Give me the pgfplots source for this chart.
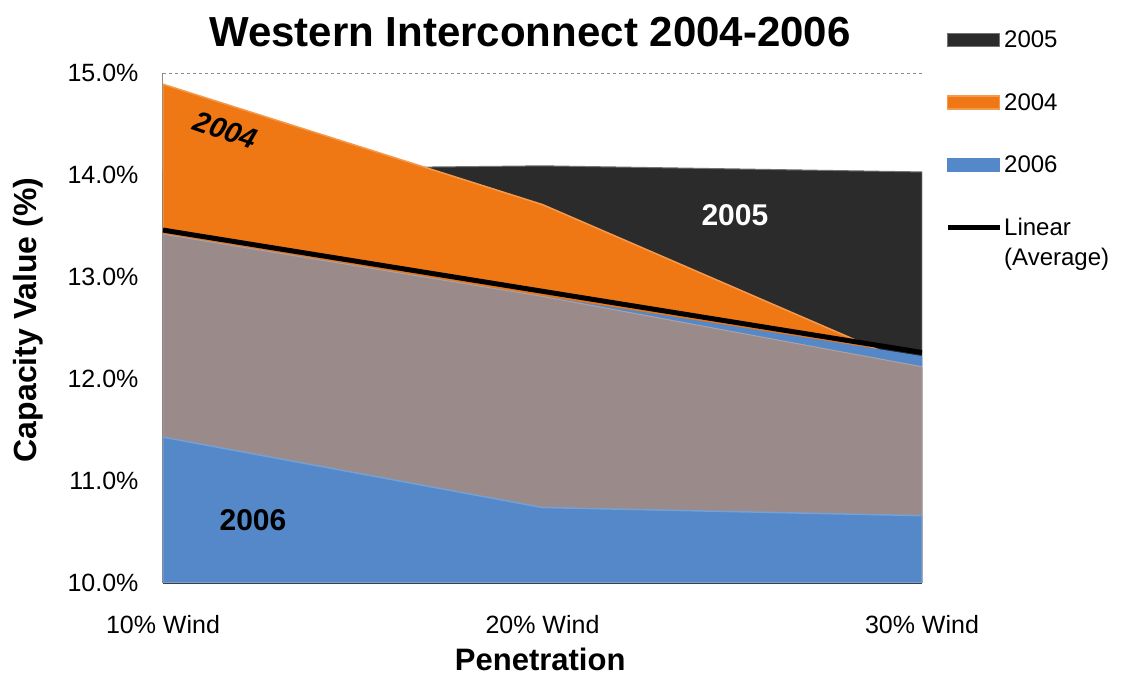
\documentclass[border=0pt]{standalone}
\usepackage{fontspec}
\setmainfont{Liberation Sans}
\usepackage{pgfplots}
\pgfplotsset{compat=1.18}

\definecolor{c05}{HTML}{2B2B2B}
\definecolor{c04}{HTML}{F07814}
\definecolor{c06}{HTML}{5488C8}
\definecolor{cmv}{HTML}{9B8A8A}

\pgfplotsset{
  swatch/.style={legend image code/.code={%
      \fill[##1] (0pt,-6.5pt) rectangle (52pt,6.5pt);}},
  lineswatch/.style={legend image code/.code={%
      \draw[##1] (0pt,15pt) -- (52pt,15pt);}},
}

\begin{document}
\begin{tikzpicture}[x=1pt,y=1pt]
\useasboundingbox (0,0) rectangle (1122,674);
\begin{axis}[
  at={(163pt,91pt)}, anchor=south west,
  scale only axis, width=759pt, height=510pt,
  xmin=0, xmax=2, ymin=10, ymax=15,
  xtick={0,1,2},
  xticklabels={10\% Wind,20\% Wind,30\% Wind},
  ytick={10,11,...,15},
  yticklabel={\pgfmathprintnumber[fixed,fixed zerofill,precision=1]{\tick}\%},
  /pgf/number format/assume math mode=true,
  major tick length=0pt,
  ticklabel style={font=\fontsize{25}{29}\selectfont},
  xticklabel style={anchor=base, yshift=-51pt},
  yticklabel style={xshift=-21pt},
  axis x line*=bottom, axis y line*=left,
  axis line style={-},
  x axis line style={draw=black!75, line width=2.5pt},
  y axis line style={draw=black!45, line width=1pt},
  ymajorgrids, grid style={dashed, draw=black!45, line width=0.8pt},
  title={Western Interconnect 2004-2006},
  title style={font=\bfseries\fontsize{42}{45}\selectfont,
    at={(rel axis cs:0.4835,1)}, anchor=center, yshift=35pt},
  xlabel={Penetration},
  xlabel style={font=\bfseries\fontsize{31}{34}\selectfont,
    at={(rel axis cs:0.497,0)}, anchor=base, inner sep=0pt,
    text depth=0pt, yshift=-88pt},
  ylabel={Capacity Value (\%)},
  ylabel style={font=\bfseries\fontsize{32}{35}\selectfont,
    at={(rel axis cs:-0.178,0.516)}, anchor=center},
  legend style={at={(rel axis cs:1,1)}, anchor=north west,
    xshift=20pt, yshift=46pt, draw=none, fill=none,
    font=\fontsize{24}{30}\selectfont, row sep=40pt,
    cells={anchor=west, align=left}},
  legend cell align=left,
]
% 2005 sits at the back
\addplot[fill=c05, draw=black!55, line width=1pt, swatch]
  coordinates {(0,14.05) (1,14.09) (2,14.03)} \closedcycle;
\addlegendentry{2005}
% 2004
\addplot[fill=c04, draw=c04!75!white, line width=1.5pt, swatch]
  coordinates {(0,14.89) (1,13.71) (2,12.10)} \closedcycle;
\addlegendentry{2004}
% 2006
\addplot[fill=c06, draw=c06, line width=1pt, swatch]
  coordinates {(0,13.42) (1,12.81) (2,12.22)} \closedcycle;
\addlegendentry{2006}
% overlap band and lower 2006 band
\addplot[fill=cmv, draw=cmv!80!white, line width=1pt, forget plot]
  coordinates {(0,13.42) (1,12.81) (2,12.12)} \closedcycle;
\addplot[fill=c06, draw=c06!80!white, line width=1.5pt, forget plot]
  coordinates {(0,11.43) (1,10.74) (2,10.66)} \closedcycle;
% linear trend of the average
\addplot[black, line width=5pt, lineswatch]
  coordinates {(0,13.46) (2,12.26)};
\addlegendentry{Linear\\(Average)}

\node[font=\bfseries\itshape\fontsize{29}{31}\selectfont, rotate=-19]
  at (axis cs:0.165,14.44) {2004};
\node[font=\bfseries\fontsize{30}{32}\selectfont, text=white]
  at (axis cs:1.507,13.61) {2005};
\node[font=\bfseries\fontsize{30}{32}\selectfont]
  at (axis cs:0.237,10.62) {2006};
\end{axis}
\end{tikzpicture}
\end{document}
